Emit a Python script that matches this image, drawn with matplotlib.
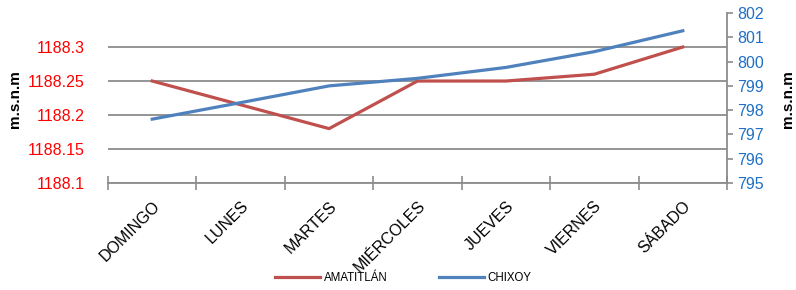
import numpy as np
import matplotlib.pyplot as plt

plt.rcParams['font.family'] = ['Liberation Sans', 'DejaVu Sans']

dias = ["DOMINGO", "LUNES", "MARTES", "MIÉRCOLES", "JUEVES", "VIERNES", "SÁBADO"]
amatitlan = [1188.25, 1188.215, 1188.18, 1188.25, 1188.25, 1188.26, 1188.30]
chixoy = [797.63, 798.31, 799.0, 799.31, 799.76, 800.41, 801.27]

x = np.arange(len(dias))

fig = plt.figure(figsize=(7.96, 2.9), dpi=100)
ax = fig.add_axes([0.1357, 0.369, 0.7776, 0.586])
ax2 = ax.twinx()

l1, = ax.plot(x, amatitlan, color="#C0504D", lw=2.3, label="AMATITLÁN")
l2, = ax2.plot(x, chixoy, color="#4F81BD", lw=2.3, label="CHIXOY")

ax.set_xlim(-0.5, 6.5)
ax.set_ylim(1188.1, 1188.35)
ax.set_yticks([1188.1, 1188.15, 1188.2, 1188.25, 1188.3])
ax.set_yticklabels(["1188.1", "1188.15", "1188.2", "1188.25", "1188.3"])
ax.tick_params(axis="y", length=0, colors="red", labelsize=11.5, pad=17)
ax.grid(axis="y", color="#8c8c8c", lw=1.3)
ax.set_axisbelow(True)

ax.set_xticks(x)
ax.set_xticklabels(dias, rotation=45, ha="right", rotation_mode="anchor", fontsize=11.5)
ax.set_xticks(np.arange(-0.5, 7, 1), minor=True)
ax.tick_params(axis="x", which="major", length=0, pad=11)
ax.tick_params(axis="x", which="minor", length=10, direction="inout", color="#8c8c8c", width=1.2)

ax2.set_ylim(795, 802)
ax2.set_yticks(range(795, 803))
ax2.tick_params(axis="y", colors="#8c8c8c", labelcolor="#1F6FC5", labelsize=11.5,
                length=4, width=1.2)

for a in (ax, ax2):
    for s in ("top", "left"):
        a.spines[s].set_visible(False)
    a.spines["right"].set_visible(a is ax2)
    a.spines["bottom"].set_color("#8c8c8c")
    a.spines["bottom"].set_linewidth(1.3)
ax2.spines["right"].set_color("#8c8c8c")
ax2.spines["right"].set_linewidth(1.3)
ax2.spines["bottom"].set_visible(False)

fig.text(0.019, 0.66, "m.s.n.m", rotation=90, ha="center", va="center",
         fontsize=11, fontweight="bold")
fig.text(0.99, 0.66, "m.s.n.m", rotation=90, ha="center", va="center",
         fontsize=11, fontweight="bold")

fig.legend(handles=[l1, l2], loc="center", bbox_to_anchor=(0.507, 0.041), ncol=2,
           frameon=False, fontsize=8.3, handlelength=3.9, columnspacing=4.4, handletextpad=0.35)

fig.savefig("out.png", dpi=100)
